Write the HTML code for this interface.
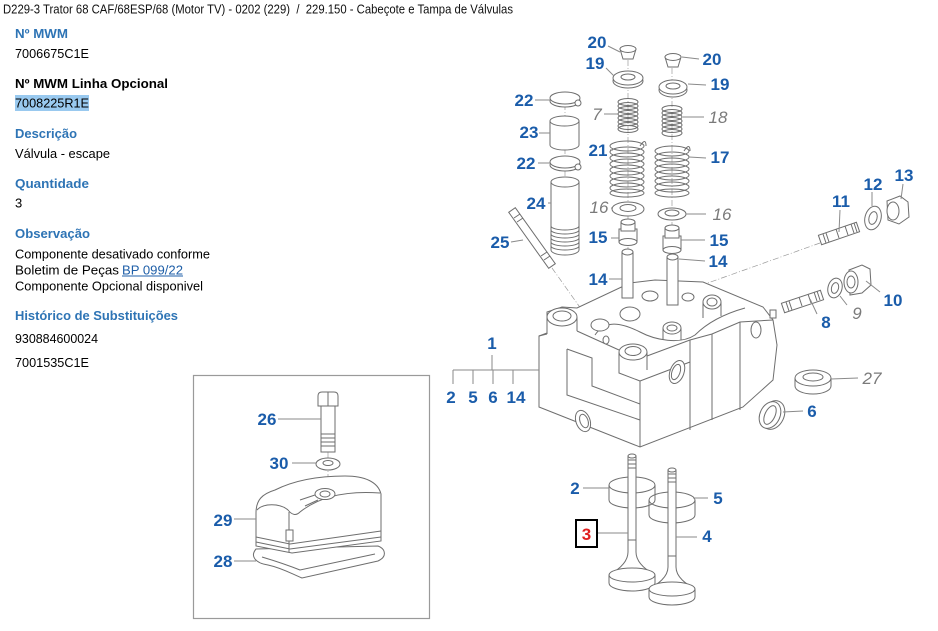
<!DOCTYPE html>
<html><head><meta charset="utf-8">
<style>
html,body{margin:0;padding:0;background:#fff;width:938px;height:631px;overflow:hidden}
svg{display:block}
</style></head>
<body>
<svg width="938" height="631" viewBox="0 0 938 631" xmlns="http://www.w3.org/2000/svg" font-family="'Liberation Sans', Arial, sans-serif">
<!-- header -->
<text x="3" y="13.5" font-size="12.5" fill="#111" textLength="510" lengthAdjust="spacingAndGlyphs">D229-3 Trator 68 CAF/68ESP/68 (Motor TV) - 0202 (229) &#160;/&#160; 229.150 - Cabeçote e Tampa de Válvulas</text>

<!-- left info -->
<g font-size="13">
<text x="15" y="38" font-weight="bold" fill="#2e74b5" textLength="53" lengthAdjust="spacingAndGlyphs">Nº MWM</text>
<text x="15" y="58" fill="#000" textLength="74" lengthAdjust="spacingAndGlyphs">7006675C1E</text>
<text x="15" y="88" font-weight="bold" fill="#000" textLength="153" lengthAdjust="spacingAndGlyphs">Nº MWM Linha Opcional</text>
<rect x="15" y="95" width="74" height="16" fill="#99c9ef"/>
<text x="15" y="107.5" fill="#000" textLength="74" lengthAdjust="spacingAndGlyphs">7008225R1E</text>
<text x="15" y="138" font-weight="bold" fill="#2e74b5" textLength="62" lengthAdjust="spacingAndGlyphs">Descrição</text>
<text x="15" y="158" fill="#000" textLength="95" lengthAdjust="spacingAndGlyphs">Válvula - escape</text>
<text x="15" y="188" font-weight="bold" fill="#2e74b5" textLength="74" lengthAdjust="spacingAndGlyphs">Quantidade</text>
<text x="15" y="207.5" fill="#000">3</text>
<text x="15" y="238" font-weight="bold" fill="#2e74b5" textLength="75" lengthAdjust="spacingAndGlyphs">Observação</text>
<text x="15" y="258.3" fill="#000" textLength="195" lengthAdjust="spacingAndGlyphs">Componente desativado conforme</text>
<text x="15" y="274.3" fill="#000" textLength="104" lengthAdjust="spacingAndGlyphs">Boletim de Peças</text>
<text x="122" y="274.3" fill="#1f5fa8" textLength="61" lengthAdjust="spacingAndGlyphs">BP 099/22</text>
<rect x="122" y="275.5" width="61" height="1" fill="#1f5fa8"/>
<text x="15" y="290.3" fill="#000" textLength="188" lengthAdjust="spacingAndGlyphs">Componente Opcional disponivel</text>
<text x="15" y="320" font-weight="bold" fill="#2e74b5" textLength="163" lengthAdjust="spacingAndGlyphs">Histórico de Substituições</text>
<text x="15" y="343" fill="#000" textLength="83" lengthAdjust="spacingAndGlyphs">930884600024</text>
<text x="15" y="367" fill="#000" textLength="74" lengthAdjust="spacingAndGlyphs">7001535C1E</text>
</g>

<!-- cover box -->
<rect x="193.5" y="375.5" width="236" height="243" fill="none" stroke="#9a9a9a" stroke-width="1.2"/>

<!-- dash-dot centre lines -->
<g stroke="#9a9a9a" stroke-width="0.7" fill="none" stroke-dasharray="6 2 1 2">
<line x1="628" y1="60" x2="628" y2="250"/>
<line x1="672" y1="68" x2="672" y2="256"/>
<line x1="565" y1="104" x2="565" y2="180"/>
<line x1="552" y1="268" x2="606" y2="344"/>
<line x1="820" y1="243" x2="705" y2="284"/>
<line x1="328" y1="452" x2="328" y2="488"/>
</g>

<g fill="#fff" stroke="#6e6e6e" stroke-width="1">
<!-- ===== cylinder head ===== -->
<path d="M539,336 L539,407 L640,447 L743,407 L773,380 L777,345 L773,320 L763,307 L703,282 L655,280 L630,283 L577,308 L562,307 L547,312 L547,333 Z"/>
<path d="M547,317 L547,334 M577,317 L577,331" fill="none"/>
<ellipse cx="562" cy="317" rx="15" ry="9"/>
<ellipse cx="562" cy="316" rx="9" ry="5"/>
<path d="M539,336 L547,334 M577,331 L619,350" fill="none"/>
<path d="M567,349 L567,395 L640,420 M567,349 L592,358 L592,386 L640,404" fill="none"/>
<path d="M619,352 L619,373 L640,381 M647,352 L647,370" fill="none"/>
<ellipse cx="633" cy="352" rx="14" ry="8"/>
<ellipse cx="633" cy="351" rx="8" ry="4.5"/>
<path d="M640,381 L640,447 M647,356 L690,340 L712,334 L740,322 L773,320" fill="none"/>
<path d="M690,340 L690,430 M712,334 L712,420 M740,322 L740,410 M640,381 L690,362" fill="none"/>
<ellipse cx="583" cy="421" rx="7" ry="11" transform="rotate(-20 583 421)"/>
<ellipse cx="584" cy="421" rx="4" ry="7" transform="rotate(-20 584 421)"/>
<ellipse cx="677" cy="372" rx="7" ry="12" transform="rotate(20 677 372)"/>
<ellipse cx="676" cy="372" rx="4" ry="8" transform="rotate(20 676 372)"/>
<ellipse cx="756" cy="330" rx="5" ry="8"/>
<path d="M595,335 C605,320 620,322 640,332 C655,340 680,345 695,335 C705,325 720,315 745,308" fill="none"/>
<ellipse cx="630" cy="314" rx="10" ry="7"/>
<ellipse cx="650" cy="296" rx="8" ry="5"/>
<ellipse cx="606" cy="340" rx="3" ry="4"/>
<ellipse cx="600" cy="325" rx="9" ry="6"/>
<path d="M663,328 L663,340 M681,328 L681,340" fill="none"/>
<ellipse cx="672" cy="328" rx="9" ry="6"/>
<ellipse cx="672" cy="328" rx="5" ry="3"/>
<path d="M703,302 L703,318 M721,302 L721,316" fill="none"/>
<ellipse cx="712" cy="302" rx="9" ry="7"/>
<ellipse cx="712" cy="302" rx="5" ry="4"/>
<ellipse cx="688" cy="297" rx="6" ry="4"/>
<rect x="770" y="310" width="6" height="8"/>

<!-- valve guides 14 -->
<rect x="622" y="252" width="11" height="46"/>
<ellipse cx="627.5" cy="252" rx="5.5" ry="3"/>
<rect x="667" y="257" width="11" height="48"/>
<ellipse cx="672.5" cy="257" rx="5.5" ry="3"/>

<!-- left column parts -->
<path d="M620,49 L636,49 L633,59 L623,59 Z"/>
<ellipse cx="628" cy="49" rx="8" ry="3.5"/>
<ellipse cx="628" cy="81" rx="15" ry="7"/>
<ellipse cx="628" cy="78" rx="15" ry="7"/>
<ellipse cx="628" cy="77" rx="7" ry="3"/>
<g fill="none">
<ellipse cx="628" cy="102" rx="10" ry="3.5"/><ellipse cx="628" cy="106" rx="10" ry="3.5"/><ellipse cx="628" cy="110" rx="10" ry="3.5"/><ellipse cx="628" cy="114" rx="10" ry="3.5"/><ellipse cx="628" cy="118" rx="10" ry="3.5"/><ellipse cx="628" cy="122" rx="10" ry="3.5"/><ellipse cx="628" cy="126" rx="10" ry="3.5"/><ellipse cx="628" cy="129" rx="10" ry="3.5"/>
<ellipse cx="627" cy="146" rx="17" ry="5"/><ellipse cx="627" cy="152" rx="17" ry="5"/><ellipse cx="627" cy="158" rx="17" ry="5"/><ellipse cx="627" cy="164" rx="17" ry="5"/><ellipse cx="627" cy="170" rx="17" ry="5"/><ellipse cx="627" cy="176" rx="17" ry="5"/><ellipse cx="627" cy="182" rx="17" ry="5"/><ellipse cx="627" cy="188" rx="17" ry="5"/><ellipse cx="627" cy="193" rx="17" ry="4"/>
<path d="M640,146 C644,140 646,140 646,146"/>
</g>
<ellipse cx="628" cy="209" rx="16" ry="7"/>
<ellipse cx="628" cy="208" rx="8" ry="3.5"/>
<rect x="619" y="229" width="18" height="13"/>
<ellipse cx="628" cy="242" rx="9" ry="3.5"/>
<rect x="621" y="222" width="14" height="9"/>
<ellipse cx="628" cy="222" rx="7" ry="3"/>

<!-- right column parts -->
<path d="M665,57 L681,57 L678,67 L668,67 Z"/>
<ellipse cx="673" cy="57" rx="8" ry="3.5"/>
<ellipse cx="673" cy="90" rx="14" ry="7"/>
<ellipse cx="673" cy="87" rx="14" ry="7"/>
<ellipse cx="673" cy="86" rx="7" ry="3"/>
<g fill="none">
<ellipse cx="672" cy="109" rx="10" ry="3.5"/><ellipse cx="672" cy="113" rx="10" ry="3.5"/><ellipse cx="672" cy="117" rx="10" ry="3.5"/><ellipse cx="672" cy="121" rx="10" ry="3.5"/><ellipse cx="672" cy="125" rx="10" ry="3.5"/><ellipse cx="672" cy="129" rx="10" ry="3.5"/><ellipse cx="672" cy="133" rx="10" ry="3.5"/>
<ellipse cx="672" cy="151" rx="17" ry="5"/><ellipse cx="672" cy="157" rx="17" ry="5"/><ellipse cx="672" cy="163" rx="17" ry="5"/><ellipse cx="672" cy="169" rx="17" ry="5"/><ellipse cx="672" cy="175" rx="17" ry="5"/><ellipse cx="672" cy="181" rx="17" ry="5"/><ellipse cx="672" cy="187" rx="17" ry="5"/><ellipse cx="672" cy="193" rx="17" ry="4"/>
<path d="M684,151 C688,145 690,145 690,151"/>
</g>
<ellipse cx="672" cy="214" rx="14" ry="6"/>
<ellipse cx="672" cy="213" rx="7" ry="3"/>
<rect x="663" y="236" width="18" height="14"/>
<ellipse cx="672" cy="250" rx="9" ry="3.5"/>
<rect x="665" y="228" width="14" height="10"/>
<ellipse cx="672" cy="228" rx="7" ry="3"/>

<!-- 22 / 23 / 24 -->
<ellipse cx="565" cy="101" rx="15" ry="6"/>
<ellipse cx="565" cy="98" rx="15" ry="6"/>
<circle cx="578" cy="103" r="3"/>
<path d="M550,121 L550,145 A14.5,5 0 0 0 579,145 L579,121"/>
<ellipse cx="564.5" cy="121" rx="14.5" ry="5"/>
<ellipse cx="565" cy="165" rx="15" ry="6"/>
<ellipse cx="565" cy="162" rx="15" ry="6"/>
<circle cx="578" cy="167" r="3"/>
<path d="M551,182 L551,250 A14,5 0 0 0 579,250 L579,182"/>
<ellipse cx="565" cy="182" rx="14" ry="5"/>
<path fill="none" d="M551,226 A14,4 0 0 0 579,226 M551,230 A14,4 0 0 0 579,230 M551,234 A14,4 0 0 0 579,234 M551,238 A14,4 0 0 0 579,238 M551,242 A14,4 0 0 0 579,242 M551,246 A14,4 0 0 0 579,246"/>
<!-- 25 stud -->
<polygon points="508.7,212.3 515.3,207.7 555.3,263.7 548.7,268.3"/>
<path fill="none" d="M514,218 L520,214 M517,222 L523,218 M541,256 L547,252 M544,260 L550,256"/>

<!-- 11 12 13 -->
<polygon points="818.4,235.3 821.6,244.7 859.6,231.7 856.4,222.3"/>
<path fill="none" d="M823,234 L826,243 M826,233 L829,242 M836,229 L839,238 M845,226 L848,235 M851,224 L854,233 M854,223 L857,232"/>
<ellipse cx="873" cy="218" rx="8" ry="12" transform="rotate(15 873 218)"/>
<ellipse cx="873" cy="218" rx="4" ry="6.5" transform="rotate(15 873 218)"/>
<path d="M887,201 L900,196 L908,202 L909,217 L899,224 L888,220 Z"/>
<ellipse cx="893" cy="211" rx="6" ry="9"/>
<!-- 8 9 10 -->
<polygon points="781.4,303.3 784.6,312.7 823.6,299.7 820.4,290.3"/>
<path fill="none" d="M786,302 L789,311 M789,301 L792,310 M799,297 L802,306 M808,294 L811,303 M814,292 L817,301 M817,291 L820,300"/>
<ellipse cx="835" cy="288" rx="7" ry="10" transform="rotate(15 835 288)"/>
<ellipse cx="835" cy="288" rx="3.5" ry="5.5" transform="rotate(15 835 288)"/>
<path d="M849,270 L862,265 L870,269 L871,285 L862,293 L850,295 Z"/>
<ellipse cx="851" cy="282" rx="7" ry="11"/>
<ellipse cx="851" cy="282" rx="4" ry="6"/>
<!-- 27 -->
<path d="M795,378 L795,386 A18,8 0 0 0 831,386 L831,378"/>
<ellipse cx="813" cy="378" rx="18" ry="8"/>
<ellipse cx="813" cy="377" rx="10" ry="4"/>
<!-- 6 -->
<ellipse cx="773" cy="415" rx="11" ry="15" transform="rotate(25 773 415)"/>
<ellipse cx="770" cy="415" rx="10" ry="14" transform="rotate(25 770 415)"/>
<ellipse cx="770" cy="415" rx="5" ry="10" transform="rotate(25 770 415)"/>

<!-- valves -->
<path d="M609,485 L609,500 A23,8 0 0 0 655,500 L655,485" fill="none"/>
<ellipse cx="632" cy="485" rx="23" ry="8" fill="none"/>
<path d="M628,456 L628,552 C628,562 618,570 609,575 L609,583 A23,8 0 0 0 655,583 L655,575 C646,570 636,562 636,552 L636,456 Z"/>
<ellipse cx="632" cy="456" rx="4" ry="2"/>
<ellipse cx="632" cy="575" rx="23" ry="7"/>
<path fill="none" d="M628,460 L636,460 M628,464 L636,464 M628,468 L636,468 M628,540 L636,540"/>
<path d="M649,500 L649,515 A23,8 0 0 0 695,515 L695,500" fill="none"/>
<ellipse cx="672" cy="500" rx="23" ry="8" fill="none"/>
<path d="M668,470 L668,567 C668,577 658,584 649,589 L649,597 A23,8 0 0 0 695,597 L695,589 C686,584 676,577 676,567 L676,470 Z"/>
<ellipse cx="672" cy="470" rx="4" ry="2"/>
<ellipse cx="672" cy="589" rx="23" ry="7"/>
<path fill="none" d="M668,474 L676,474 M668,478 L676,478 M668,482 L676,482 M668,556 L676,556"/>

<!-- cover parts -->
<path d="M318,396 Q318,392 322,392 L334,392 Q338,392 338,396 L338,406 L318,406 Z"/>
<rect x="321" y="406" width="14" height="46"/>
<path fill="none" d="M321,434 L335,434 M321,438 L335,438 M321,442 L335,442 M321,446 L335,446 M328,392 L328,406"/>
<ellipse cx="328" cy="464" rx="12" ry="6"/>
<ellipse cx="328" cy="463" rx="5" ry="2.5"/>
<!-- gasket 28 -->
<path d="M256,549 C250,556 255,563 268,565 C282,568 292,574 302,578 L378,561 C387,557 386,549 378,546 Z"/>
<path fill="none" d="M262,557 C272,560 285,564 300,570 L375,554"/>
<!-- cover 29 -->
<path d="M256,513 C256,500 262,494 275,490 C295,480 320,476 345,476 C365,476 378,482 381,494 L381,541 L292,553 L256,546 Z"/>
<path fill="none" d="M257,510 C263,503 280,503 288,510 C292,515 296,516 300,512 C315,500 340,490 380,493"/>
<path fill="none" d="M256,537 L290,544 L381,531 M289,512 L289,552 M256,542 L290,549 L381,537"/>
<rect x="286" y="530" width="7" height="11"/>
<ellipse cx="325" cy="494" rx="10" ry="5.5"/>
<ellipse cx="325" cy="494" rx="5" ry="3"/>
<path fill="none" d="M300,500 L315,495 M305,506 L318,500"/>
</g>

<!-- leader lines -->
<g stroke="#8a8a8a" stroke-width="1" fill="none">
<path d="M608,46 L620,52"/>
<path d="M699,59 L682,57"/>
<path d="M606,68 L614,76"/>
<path d="M706,85 L688,84"/>
<path d="M535,100 L550,100"/>
<path d="M604,114 L618,114"/>
<path d="M704,117 L683,117"/>
<path d="M539,133 L550,133"/>
<path d="M610,150 L613,150"/>
<path d="M706,158 L689,157"/>
<path d="M538,163 L550,163"/>
<path d="M548,203 L551,203"/>
<path d="M611,208 L613,208"/>
<path d="M706,214 L686,214"/>
<path d="M511,242 L523,240"/>
<path d="M611,238 L619,238"/>
<path d="M705,240 L681,240"/>
<path d="M705,261 L679,259"/>
<path d="M609,279 L622,279"/>
<path d="M840,210 L839,232"/>
<path d="M872,192 L872,206"/>
<path d="M903,184 L901,199"/>
<path d="M880,292 L866,281"/>
<path d="M847,305 L840,296"/>
<path d="M817,314 L810,299"/>
<path d="M858,378 L831,379"/>
<path d="M803,411 L783,412"/>
<path d="M492,355 L492,370 M453,370 L539,370 M453,370 L453,384 M473,370 L473,384 M493,370 L493,384 M513,370 L513,384"/>
<path d="M583,488 L609,488"/>
<path d="M708,498 L693,498"/>
<path d="M598,533 L628,533"/>
<path d="M697,537 L676,537"/>
<path d="M278,419 L321,419"/>
<path d="M292,463 L316,463"/>
<path d="M234,519 L256,519"/>
<path d="M234,561 L256,561"/>
</g>

<!-- labels -->
<g font-size="17" font-weight="bold" fill="#1a5caa" text-anchor="middle">
<text x="597" y="48">20</text>
<text x="712" y="65">20</text>
<text x="595" y="69">19</text>
<text x="720" y="90">19</text>
<text x="524" y="106">22</text>
<text x="529" y="138">23</text>
<text x="598" y="156">21</text>
<text x="720" y="163">17</text>
<text x="526" y="169">22</text>
<text x="536" y="209">24</text>
<text x="500" y="248">25</text>
<text x="598" y="243">15</text>
<text x="719" y="246">15</text>
<text x="718" y="267">14</text>
<text x="598" y="285">14</text>
<text x="841" y="207">11</text>
<text x="873" y="190">12</text>
<text x="904" y="181">13</text>
<text x="893" y="306">10</text>
<text x="826" y="328">8</text>
<text x="812" y="417">6</text>
<text x="492" y="349">1</text>
<text x="451" y="403">2</text>
<text x="473" y="403">5</text>
<text x="493" y="403">6</text>
<text x="516" y="403">14</text>
<text x="575" y="494">2</text>
<text x="718" y="504">5</text>
<text x="707" y="542">4</text>
<text x="267" y="425">26</text>
<text x="279" y="469">30</text>
<text x="223" y="526">29</text>
<text x="223" y="567">28</text>
</g>
<g font-size="17" font-style="italic" fill="#7a7a7a" text-anchor="middle">
<text x="597" y="120">7</text>
<text x="718" y="123">18</text>
<text x="599" y="213">16</text>
<text x="722" y="220">16</text>
<text x="857" y="319">9</text>
<text x="872" y="384">27</text>
</g>
<rect x="576" y="520" width="21" height="27" fill="#fff" stroke="#000" stroke-width="2"/>
<text x="586.5" y="540" font-size="17" font-weight="bold" fill="#e02020" text-anchor="middle">3</text>
</svg>
</body></html>
